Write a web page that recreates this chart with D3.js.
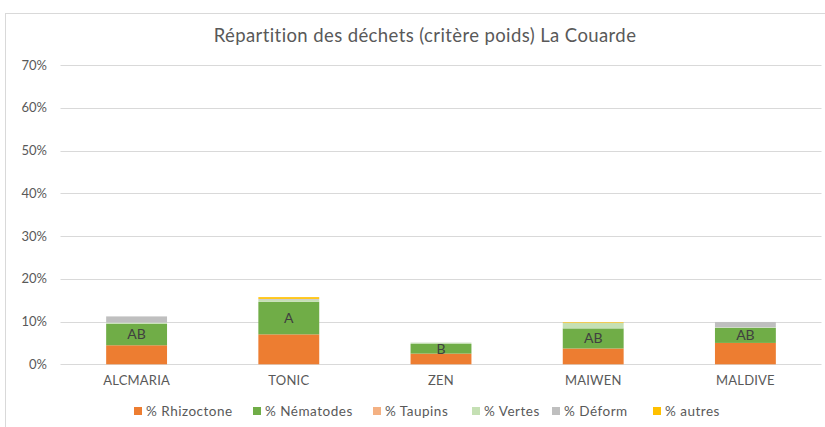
<!DOCTYPE html>
<html><head><meta charset="utf-8">
<script src="https://cdn.jsdelivr.net/npm/d3@7"></script>
<style>body{margin:0;background:#fff}svg{display:block}text{font-family:Lato,"Open Sans",sans-serif}</style>
</head><body>
<svg id="c" width="825" height="427"></svg>
<script>
const categories = ["ALCMARIA","TONIC","ZEN","MAIWEN","MALDIVE"];
const seriesNames = ["% Rhizoctone","% Nématodes","% Taupins","% Vertes","% Déform","% autres"];
const rhizoctone = [4.45, 7.0, 2.5, 3.7, 5.0];
const nematodes  = [5.0, 7.6, 2.25, 4.7, 3.5];
const taupins    = [0, 0, 0, 0, 0];
const vertes     = [0.3, 0.5, 0.3, 1.25, 0.15];
const deform     = [1.45, 0.2, 0.03, 0, 1.25];
const autres     = [0, 0.4, 0, 0.15, 0];
const groupLabels = ["AB","A","B","AB","AB"];
const yTicks = [0,10,20,30,40,50,60,70];
const colors = ["#ED7D31","#70AD47","#F4B183","#C5E0B4","#BFBFBF","#FFC000"];

const seriesVals = [rhizoctone, nematodes, taupins, vertes, deform, autres];
const rows = categories.map((c,i)=>{const r={cat:c}; seriesNames.forEach((s,j)=>r[s]=seriesVals[j][i]); return r;});

const svg = d3.select("#c");
svg.append("rect").attr("x",5.5).attr("y",13.5).attr("width",840).attr("height",440)
  .attr("fill","#fff").attr("stroke","#d9d9d9");

const x = d3.scaleBand().domain(categories).range([60.5,821.5]).paddingInner(0.6).paddingOuter(0.3);
const y = d3.scaleLinear().domain([0,70]).range([364.3,65]);

svg.append("text").attr("x",425).attr("y",42).attr("text-anchor","middle")
  .attr("font-size",18.5).attr("letter-spacing",0.4).attr("fill","#595959").text("Répartition des déchets (critère poids) La Couarde");

const grid = svg.append("g");
grid.selectAll("line").data(yTicks).join("line")
  .attr("x1",60.5).attr("x2",821.5).attr("y1",d=>Math.round(y(d))+0.5).attr("y2",d=>Math.round(y(d))+0.5)
  .attr("stroke","#d9d9d9").attr("stroke-width",1);

const yAxis = svg.append("g").attr("transform","translate(60,0)")
  .call(d3.axisLeft(y).tickValues(yTicks).tickFormat(d=>d+"%").tickSize(0).tickPadding(13));
yAxis.select(".domain").remove();
yAxis.selectAll("text").attr("font-size",13).attr("fill","#595959").attr("font-family","Lato,sans-serif");

const stack = d3.stack().keys(seriesNames)(rows);
svg.append("g").selectAll("g").data(stack).join("g").attr("fill",(d,i)=>colors[i])
  .selectAll("rect").data(d=>d).join("rect")
  .attr("x",d=>x(d.data.cat)).attr("width",x.bandwidth())
  .attr("y",d=>y(d[1])).attr("height",d=>Math.max(0,y(d[0])-y(d[1])));

svg.append("g").selectAll("text").data(stack[1]).join("text")
  .attr("x",d=>x(d.data.cat)+x.bandwidth()/2).attr("y",d=>(y(d[0])+y(d[1]))/2)
  .attr("dy","0.35em").attr("text-anchor","middle").attr("font-size",14).attr("fill","#404040")
  .text((d,i)=>groupLabels[i]);

const xAxis = svg.append("g").attr("transform","translate(0,364.3)")
  .call(d3.axisBottom(x).tickSize(0).tickPadding(11));
xAxis.select(".domain").remove();
xAxis.selectAll("text").attr("font-size",13).attr("letter-spacing",0.2).attr("fill","#595959").attr("font-family","Lato,sans-serif");

const legendX = [134, 253, 373, 472, 552, 653];
const lg = svg.append("g").selectAll("g").data(seriesNames).join("g")
  .attr("transform",(d,i)=>`translate(${legendX[i]},411)`);
lg.append("rect").attr("x",0).attr("y",-4).attr("width",8).attr("height",8).attr("fill",(d,i)=>colors[i]);
lg.append("text").attr("x",12).attr("dy","0.35em").attr("font-size",13.5).attr("letter-spacing",0.5).attr("fill","#595959").text(d=>d);
</script>
</body></html>
